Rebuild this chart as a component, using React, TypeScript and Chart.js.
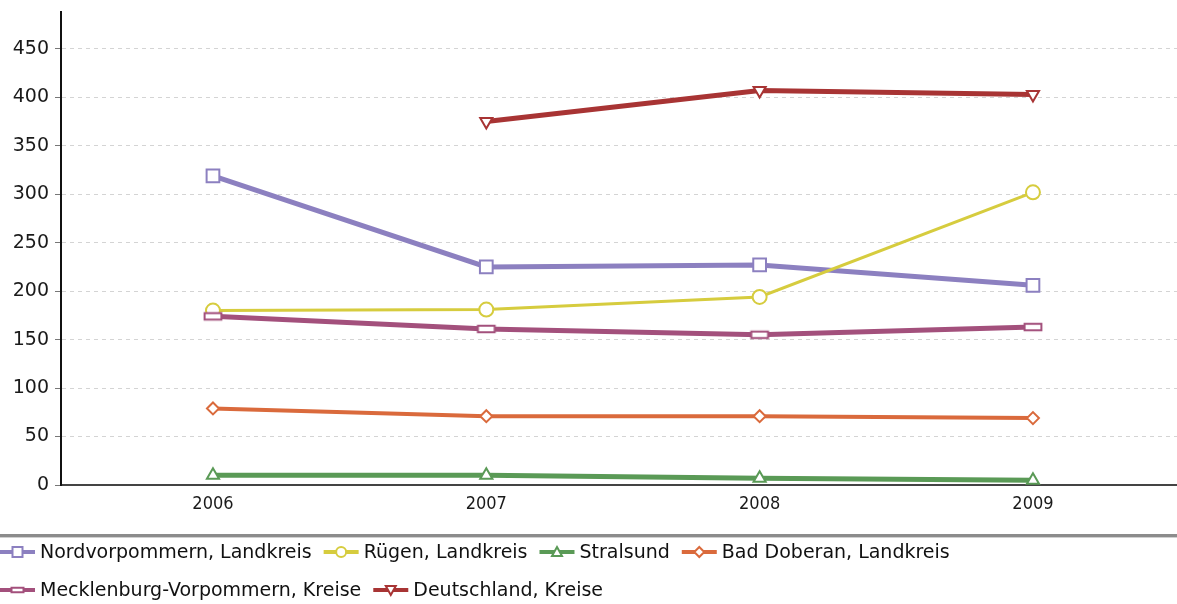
import React, { useEffect, useRef } from "react";
import { Chart, registerables } from "chart.js";

Chart.register(...registerables);

const years = [2006, 2007, 2008, 2009];
const nordvorpommern = [319, 225, 227, 206];
const ruegen = [180, 181, 194, 302];
const stralsund = [10, 10, 7, 5];
const badDoberan = [79, 71, 71, 69];
const mecklenburgVorpommern = [174, 161, 155, 163];
const deutschland: (number | null)[] = [null, 375, 407, 403];
const yTickValues = [0, 50, 100, 150, 200, 250, 300, 350, 400, 450];

const seriesNames = [
  "Nordvorpommern, Landkreis",
  "Rügen, Landkreis",
  "Stralsund",
  "Bad Doberan, Landkreis",
  "Mecklenburg-Vorpommern, Kreise",
  "Deutschland, Kreise",
];
const seriesValues = [nordvorpommern, ruegen, stralsund, badDoberan, mecklenburgVorpommern, deutschland];
const seriesColors = ["#8c80c0", "#d6cc3e", "#5a9a56", "#da6a3c", "#a3507c", "#a83434"];
const seriesLineWidths = [5, 3, 5, 4, 5, 5];
const seriesMarkers = ["square", "circle", "triangle", "diamond", "flat", "invTriangle"];

function drawMarker(ctx: CanvasRenderingContext2D, kind: string, x: number, y: number, s: number, color: string) {
  ctx.save();
  ctx.fillStyle = "#fff";
  ctx.strokeStyle = color;
  ctx.lineWidth = 2;
  ctx.setLineDash([]);
  ctx.beginPath();
  if (kind === "square") {
    ctx.rect(x - s, y - s, 2 * s, 2 * s);
  } else if (kind === "circle") {
    ctx.arc(x, y, s, 0, Math.PI * 2);
  } else if (kind === "triangle") {
    ctx.moveTo(x, y - s);
    ctx.lineTo(x + s, y + s * 0.8);
    ctx.lineTo(x - s, y + s * 0.8);
    ctx.closePath();
  } else if (kind === "invTriangle") {
    ctx.moveTo(x, y + s);
    ctx.lineTo(x + s, y - s * 0.8);
    ctx.lineTo(x - s, y - s * 0.8);
    ctx.closePath();
  } else if (kind === "diamond") {
    ctx.moveTo(x, y - s);
    ctx.lineTo(x + s, y);
    ctx.lineTo(x, y + s);
    ctx.lineTo(x - s, y);
    ctx.closePath();
  } else if (kind === "flat") {
    ctx.rect(x - s * 1.2, y - s * 0.45, s * 2.4, s * 0.9);
  }
  ctx.fill();
  ctx.stroke();
  ctx.restore();
}

function makeMarkerCanvas(kind: string, color: string, w: number, h: number, s: number) {
  const c = document.createElement("canvas");
  c.width = w;
  c.height = h;
  const ctx = c.getContext("2d")!;
  drawMarker(ctx, kind, w / 2, h / 2, s, color);
  return c;
}

const legendPlugin = {
  id: "customLegend",
  afterDraw(chart: any) {
    const ctx: CanvasRenderingContext2D = chart.ctx;
    const W = chart.width;
    ctx.save();
    ctx.fillStyle = "#8c8c8c";
    ctx.fillRect(0, 534, W, 3);
    ctx.fillStyle = "#d0d0d0";
    ctx.fillRect(0, 537, W, 1);
    ctx.font = "19px 'DejaVu Sans'";
    ctx.textBaseline = "middle";
    let x = 0;
    let y = 552;
    const rowH = 38;
    seriesNames.forEach((name, i) => {
      const tw = ctx.measureText(name).width;
      const itemW = 36 + 4 + tw;
      if (x > 0 && x + itemW > W) {
        x = 0;
        y += rowH;
      }
      ctx.strokeStyle = seriesColors[i];
      ctx.lineWidth = 4;
      ctx.beginPath();
      ctx.moveTo(x, y);
      ctx.lineTo(x + 35, y);
      ctx.stroke();
      drawMarker(ctx, seriesMarkers[i], x + 17.5, y, 5, seriesColors[i]);
      ctx.fillStyle = "#111";
      ctx.fillText(name, x + 40, y + 1);
      x += itemW + 12;
    });
    ctx.restore();
  },
};

export default function App() {
  const ref = useRef<HTMLCanvasElement | null>(null);
  useEffect(() => {
    if (!ref.current) return;
    const pointStyles: any[] = [
      "rect",
      "circle",
      "triangle",
      "rectRot",
      makeMarkerCanvas("flat", seriesColors[4], 22, 12, 7),
      "triangle",
    ];
    const radii = [9, 7, 7, 6, 7, 7];
    const datasets = seriesNames.map((name, i) => ({
      label: name,
      data: years.map((yr, j) => ({ x: yr, y: seriesValues[i][j] })),
      borderColor: seriesColors[i],
      borderWidth: seriesLineWidths[i],
      backgroundColor: "#fff",
      pointBackgroundColor: "#fff",
      pointBorderColor: seriesColors[i],
      pointBorderWidth: 2,
      pointStyle: pointStyles[i],
      pointRadius: radii[i],
      pointRotation: i === 5 ? 180 : 0,
      tension: 0,
      order: 5 - i,
      spanGaps: false,
    }));
    const chart = new Chart(ref.current, {
      type: "line",
      data: { datasets },
      options: {
        animation: false,
        responsive: false,
        events: [],
        layout: { autoPadding: false, padding: { top: 12, right: 0, bottom: 0, left: 0 } },
        plugins: { legend: { display: false }, tooltip: { enabled: false } },
        scales: {
          x: {
            type: "linear",
            min: 2005.444,
            max: 2009.527,
            afterBuildTicks: (axis: any) => {
              axis.ticks = years.map((v) => ({ value: v }));
            },
            afterFit: (scale: any) => {
              scale.height = 119;
              scale.paddingLeft = 0;
              scale.paddingRight = 0;
            },
            ticks: {
              callback: (v: any) => String(v),
              font: { family: "'DejaVu Sans Condensed'", size: 18 },
              color: "#1a1a1a",
              padding: 9,
              maxRotation: 0,
              autoSkip: false,
            },
            grid: { display: false, drawTicks: false },
            border: { display: true, color: "#444", width: 2 },
          },
          y: {
            type: "linear",
            min: 0,
            max: 488,
            afterBuildTicks: (axis: any) => {
              axis.ticks = yTickValues.map((v) => ({ value: v }));
            },
            afterFit: (scale: any) => {
              scale.width = 61;
              scale.paddingTop = 0;
              scale.paddingBottom = 0;
            },
            ticks: {
              callback: (v: any) => String(v),
              font: { family: "'DejaVu Sans'", size: 19 },
              color: "#1a1a1a",
              padding: 6,
            },
            grid: {
              color: "#d4d4d4",
              lineWidth: 1,
              drawTicks: true,
              tickLength: 6,
              tickColor: "#777",
              tickBorderDash: [],
            },
            border: { display: true, color: "#111", width: 2, dash: [4, 4] },
          },
        },
      },
      plugins: [legendPlugin],
    } as any);
    return () => chart.destroy();
  }, []);
  return (
    <div style={{ position: "fixed", left: 0, top: 0, width: 1177, height: 604, background: "#fff" }}>
      <canvas ref={ref} width={1177} height={604} style={{ width: 1177, height: 604, display: "block" }} />
    </div>
  );
}
